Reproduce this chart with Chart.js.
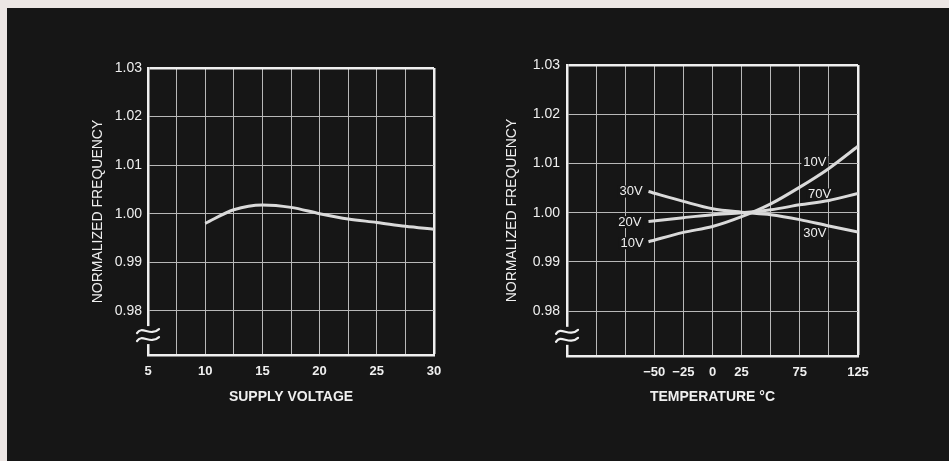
<!DOCTYPE html>
<html>
<head>
<meta charset="utf-8">
<script src="https://cdn.jsdelivr.net/npm/chart.js@4.4.1/dist/chart.umd.min.js"></script>
<style>
  html, body { margin: 0; padding: 0; width: 949px; height: 461px; overflow: hidden; background: #ece6e4; }
  .panel { position: absolute; left: 7px; top: 8px; width: 942px; height: 453px; background: #161616; }
  canvas { position: absolute; }
  #supplyChart { left: 40px; top: 40px; }
  #tempChart { left: 470px; top: 40px; }
</style>
</head>
<body>
<div class="panel"></div>
<canvas id="supplyChart" width="420" height="380"></canvas>
<canvas id="tempChart" width="420" height="380"></canvas>
<script>
// ---------- DATA ----------
const freqTicks = [0.98, 0.99, 1.00, 1.01, 1.02, 1.03];
const freqMin = 0.9709;
const freqMax = 1.03;

// left: frequency vs supply voltage
const voltTicks = [5, 7.5, 10, 12.5, 15, 17.5, 20, 22.5, 25, 27.5, 30];
const voltLabels = [5, 10, 15, 20, 25, 30];
const supplyVolts = [10, 12.5, 15, 17.5, 20, 22.5, 25, 27.5, 30];
const freqVsSupply = [0.9980, 1.0008, 1.0018, 1.0013, 1.0000, 0.9989, 0.9982, 0.9974, 0.9968];

// right: frequency vs temperature
const tempTicks = [-125, -100, -75, -50, -25, 0, 25, 50, 75, 100, 125];
const tempLabelValues = [-50, -25, 0, 25, 75, 125];
const tempLabelText = ['\u221250', '\u221225', '0', '25', '75', '125'];
const temps = [-55, -25, 0, 25, 50, 75, 100, 125];
const freq10V = [0.9941, 0.9960, 0.9972, 0.9992, 1.0018, 1.0052, 1.0090, 1.0135];
const freq20V = [0.9982, 0.9990, 0.9996, 1.0000, 1.0006, 1.0016, 1.0025, 1.0039];
const freq30V = [1.0043, 1.0023, 1.0008, 1.0001, 0.9996, 0.9986, 0.9973, 0.9961];

const curveLabels = ['30V', '20V', '10V', '10V', '70V', '30V'];
const curveLabelTemps = [-70, -71, -69, 88, 92, 88];
const curveLabelFreqs = [1.0043, 0.9981, 0.9938, 1.0103, 1.0037, 0.9957];

// ---------- STYLE ----------
const BG = '#161616';
const INK = '#efefef';
const GRID = '#b8b8b8';
const CURVE = '#dadada';
const FONT = "'Liberation Sans', Arial, sans-serif";

Chart.defaults.font.family = FONT;
Chart.defaults.color = INK;

const toPoints = (xs, ys) => xs.map((x, i) => ({ x, y: ys[i] }));

// ---------- PLUGINS ----------
const axisBreak = {
  id: 'axisBreak',
  afterDraw(chart, args, opts) {
    const { ctx, chartArea, scales } = chart;
    const x = chartArea.left;
    const y = scales.y.getPixelForValue(opts.at);
    ctx.save();
    ctx.fillStyle = BG;
    ctx.fillRect(x - 3, y - 9, 6, 18);
    ctx.strokeStyle = INK;
    ctx.lineWidth = 2.2;
    ctx.lineCap = 'round';
    [-4, 4].forEach(dy => {
      ctx.beginPath();
      ctx.moveTo(x - 11, y + dy + 2);
      ctx.bezierCurveTo(x - 6, y + dy - 6, x + 2, y + dy + 6, x + 11, y + dy - 2);
      ctx.stroke();
    });
    ctx.restore();
  }
};

// curve names: the box only hides the grid, the curves are drawn over it
function eachLabel(chart, opts, fn) {
  const { ctx, scales } = chart;
  ctx.save();
  ctx.font = '13px ' + FONT;
  ctx.textAlign = 'center';
  ctx.textBaseline = 'middle';
  opts.labels.forEach((txt, i) => {
    fn(ctx, txt, scales.x.getPixelForValue(opts.temps[i]), scales.y.getPixelForValue(opts.freqs[i]));
  });
  ctx.restore();
}

const curveText = {
  id: 'curveText',
  beforeDatasetsDraw(chart, args, opts) {
    if (!opts.labels) return;
    eachLabel(chart, opts, (ctx, txt, x, y) => {
      const w = ctx.measureText(txt).width;
      ctx.fillStyle = BG;
      ctx.fillRect(x - w / 2 - 2, y - 6, w + 4, 12);
    });
  },
  afterDatasetsDraw(chart, args, opts) {
    if (!opts.labels) return;
    eachLabel(chart, opts, (ctx, txt, x, y) => {
      ctx.fillStyle = INK;
      ctx.fillText(txt, x, y);
    });
  }
};

// ---------- CHART BUILDER ----------
function makeChart(id, cfg) {
  const xMin = cfg.xTicks[0], xMax = cfg.xTicks[cfg.xTicks.length - 1];
  return new Chart(document.getElementById(id), {
    type: 'line',
    data: {
      datasets: cfg.series.map(s => ({
        data: toPoints(s.x, s.y),
        borderColor: CURVE,
        borderWidth: 3,
        pointRadius: 0,
        cubicInterpolationMode: 'monotone',
        fill: false,
      }))
    },
    options: {
      responsive: false,
      animation: false,
      devicePixelRatio: 1,
      layout: { padding: cfg.padding },
      scales: {
        x: {
          type: 'linear',
          min: xMin,
          max: xMax,
          afterBuildTicks: s => { s.ticks = cfg.xTicks.map(v => ({ value: v })); },
          afterFit: s => { s.height = cfg.xAxisH; },
          ticks: {
            padding: 9,
            maxRotation: 0,
            autoSkip: false,
            color: INK,
            font: { size: 13, weight: 'bold' },
            callback: cfg.xLabel,
          },
          grid: {
            drawTicks: false,
            color: c => c.tick && c.tick.value === xMax ? INK : GRID,
            lineWidth: c => c.tick && c.tick.value === xMax ? 2.5 : 1,
          },
          border: { display: true, color: INK, width: 2.5 },
          title: {
            display: true,
            text: cfg.xTitle,
            color: INK,
            font: { size: 14, weight: 'bold' },
            padding: { top: 0, bottom: 14 },
          },
        },
        y: {
          type: 'linear',
          min: freqMin,
          max: freqMax,
          afterBuildTicks: s => { s.ticks = freqTicks.map(v => ({ value: v })); },
          afterFit: s => { s.width = cfg.yAxisW; },
          ticks: {
            padding: cfg.yTickPad,
            color: INK,
            font: { size: 14 },
            callback: v => v.toFixed(2),
          },
          grid: {
            drawTicks: false,
            color: c => c.tick && c.tick.value === freqMax ? INK : GRID,
            lineWidth: c => c.tick && c.tick.value === freqMax ? 2.5 : 1,
          },
          border: { display: true, color: INK, width: 2.5 },
          title: {
            display: true,
            text: 'NORMALIZED FREQUENCY',
            color: INK,
            font: { size: 14 },
            padding: { top: cfg.yTitlePad, bottom: 0 },
          },
        },
      },
      plugins: {
        legend: { display: false },
        tooltip: { enabled: false },
        axisBreak: { at: 0.9750 },
        curveText: cfg.text || {},
      },
    },
    plugins: [axisBreak, curveText],
  });
}

// ---------- CHARTS ----------
makeChart('supplyChart', {
  xTicks: voltTicks,
  xLabel: v => voltLabels.includes(v) ? String(v) : '',
  xTitle: 'SUPPLY VOLTAGE',
  series: [{ x: supplyVolts, y: freqVsSupply }],
  padding: { top: 28, right: 26, left: 0, bottom: 0 },
  xAxisH: 65,
  yAxisW: 108,
  yTickPad: 6,
  yTitlePad: 49.6,
});

makeChart('tempChart', {
  xTicks: tempTicks,
  xLabel: v => {
    const i = tempLabelValues.indexOf(v);
    return i >= 0 ? tempLabelText[i] : '';
  },
  xTitle: 'TEMPERATURE \u00B0C',
  series: [
    { x: temps, y: freq10V },
    { x: temps, y: freq20V },
    { x: temps, y: freq30V },
  ],
  padding: { top: 25, right: 32, left: 0, bottom: 0 },
  xAxisH: 64,
  yAxisW: 97,
  yTickPad: 7,
  yTitlePad: 33.6,
  text: { labels: curveLabels, temps: curveLabelTemps, freqs: curveLabelFreqs },
});
</script>
</body>
</html>
